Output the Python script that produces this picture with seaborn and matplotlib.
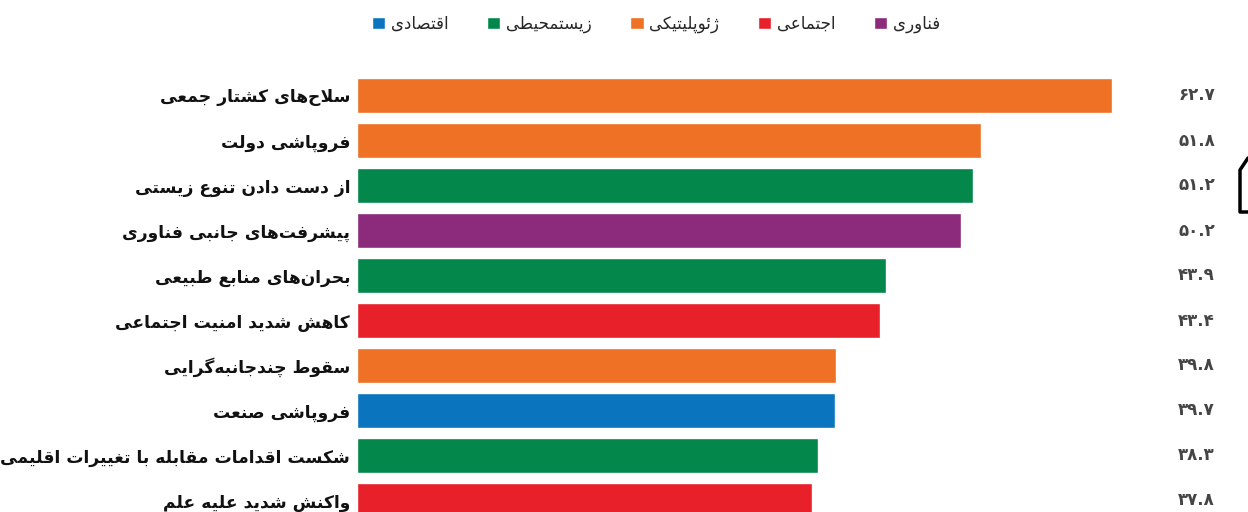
import numpy as np
import pandas as pd
import matplotlib
matplotlib.use("Agg")
import matplotlib.pyplot as plt
from matplotlib.lines import Line2D
import matplotlib.transforms as mtrans
import seaborn as sns

# ---------------- data ----------------
risks = [
    "سلاح‌های کشتار جمعی",
    "فروپاشی دولت",
    "از دست دادن تنوع زیستی",
    "پیشرفت‌های جانبی فناوری",
    "بحران‌های منابع طبیعی",
    "کاهش شدید امنیت اجتماعی",
    "سقوط چندجانبه‌گرایی",
    "فروپاشی صنعت",
    "شکست اقدامات مقابله با تغییرات اقلیمی",
    "واکنش شدید علیه علم",
]
values = [62.7, 51.8, 51.2, 50.2, 43.9, 43.4, 39.8, 39.7, 38.3, 37.8]
groups = ["ژئوپلیتیکی", "ژئوپلیتیکی", "زیستمحیطی", "فناوری", "زیستمحیطی",
          "اجتماعی", "ژئوپلیتیکی", "اقتصادی", "زیستمحیطی", "اجتماعی"]
legend_order = ["اقتصادی", "زیستمحیطی", "ژئوپلیتیکی", "اجتماعی", "فناوری"]
legend_colors = ["#0A75BE", "#03874A", "#EE7125", "#E8202A", "#8C2A7B"]

# ---------------- simple Persian shaping ----------------
F = {
    'ا': ('\uFE8D', '\uFE8E', None, None),
    'ب': ('\uFE8F', '\uFE90', '\uFE91', '\uFE92'),
    'پ': ('\uFB56', '\uFB57', '\uFB58', '\uFB59'),
    'ت': ('\uFE95', '\uFE96', '\uFE97', '\uFE98'),
    'ج': ('\uFE9D', '\uFE9E', '\uFE9F', '\uFEA0'),
    'چ': ('\uFB7A', '\uFB7B', '\uFB7C', '\uFB7D'),
    'ح': ('\uFEA1', '\uFEA2', '\uFEA3', '\uFEA4'),
    'د': ('\uFEA9', '\uFEAA', None, None),
    'ر': ('\uFEAD', '\uFEAE', None, None),
    'ز': ('\uFEAF', '\uFEB0', None, None),
    'ژ': ('\uFB8A', '\uFB8B', None, None),
    'س': ('\uFEB1', '\uFEB2', '\uFEB3', '\uFEB4'),
    'ش': ('\uFEB5', '\uFEB6', '\uFEB7', '\uFEB8'),
    'ص': ('\uFEB9', '\uFEBA', '\uFEBB', '\uFEBC'),
    'ط': ('\uFEC1', '\uFEC2', '\uFEC3', '\uFEC4'),
    'ع': ('\uFEC9', '\uFECA', '\uFECB', '\uFECC'),
    'غ': ('\uFECD', '\uFECE', '\uFECF', '\uFED0'),
    'ف': ('\uFED1', '\uFED2', '\uFED3', '\uFED4'),
    'ق': ('\uFED5', '\uFED6', '\uFED7', '\uFED8'),
    'ک': ('\uFB8E', '\uFB8F', '\uFB90', '\uFB91'),
    'گ': ('\uFB92', '\uFB93', '\uFB94', '\uFB95'),
    'ل': ('\uFEDD', '\uFEDE', '\uFEDF', '\uFEE0'),
    'م': ('\uFEE1', '\uFEE2', '\uFEE3', '\uFEE4'),
    'ن': ('\uFEE5', '\uFEE6', '\uFEE7', '\uFEE8'),
    'و': ('\uFEED', '\uFEEE', None, None),
    'ه': ('\uFEE9', '\uFEEA', '\uFEEB', '\uFEEC'),
    'ی': ('\uFBFC', '\uFBFD', '\uFBFE', '\uFBFF'),
    'ئ': ('\uFE89', '\uFE8A', '\uFE8B', '\uFE8C'),
}


def _dual(c):
    return c in F and F[c][2] is not None


def shape(s):
    out = []
    n = len(s)
    i = 0
    while i < n:
        c = s[i]
        if c not in F:
            if c != '\u200c':
                out.append(c)
            i += 1
            continue
        prev = s[i - 1] if i > 0 else ''
        pj = _dual(prev)
        if c == 'ل' and i + 1 < n and s[i + 1] == 'ا':
            out.append('\uFEFC' if pj else '\uFEFB')
            i += 2
            continue
        nxt = s[i + 1] if i + 1 < n else ''
        nj = _dual(c) and nxt in F
        iso, fin, ini, med = F[c]
        if pj and nj:
            g = med
        elif pj:
            g = fin
        elif nj:
            g = ini
        else:
            g = iso
        out.append(g)
        i += 1
    return ''.join(reversed(out))


def fa_num(v):
    digits = "۰۱۲۳۴۵۶۷۸۹"
    return ''.join(digits[int(ch)] if ch.isdigit() else ch for ch in f"{v:.1f}")


# ---------------- plot ----------------
sns.set_style("white")
plt.rcParams['font.family'] = ['DejaVu Sans']

W, H = 1248, 512
fig = plt.figure(figsize=(W / 100, H / 100), dpi=100)
fig.patch.set_facecolor("white")

px = 12.04  # pixels per unit
x0 = 357
ax_top = 50
ax = fig.add_axes([x0 / W, 0, (W - x0) / W, (H - ax_top) / H])

df = pd.DataFrame({"risk": risks, "value": values, "group": groups})
palette = dict(zip(legend_order, legend_colors))
sns.barplot(data=df, y="risk", x="value", hue="group", hue_order=legend_order,
            palette=palette, dodge=False, width=0.78, orient="h",
            saturation=1, ax=ax, legend=True)

ax.set_xlim(0, (W - x0) / px)
ax.set_ylim((H - 95.5) / 45, (ax_top - 95.5) / 45)
for s in ax.spines.values():
    s.set_visible(False)
ax.set_xticks([])
ax.set_xlabel("")
ax.set_ylabel("")
ax.set_yticks(range(len(risks)))
ax.set_yticklabels([shape(r) for r in risks], fontsize=12.3, fontweight="bold",
                   color="#111111")
ax.tick_params(axis="y", length=0, pad=5)

# value labels in a right column
trans = mtrans.blended_transform_factory(fig.transFigure, ax.transData)
for i, v in enumerate(values):
    ax.text(1215 / W, i, fa_num(v), transform=trans, ha="right", va="center",
            fontsize=12, fontweight="bold", color="#454545")

# legend
leg = ax.get_legend()
handles = leg.legend_handles
leg.remove()
fig.legend(handles, [shape(g) for g in legend_order], loc="center",
           bbox_to_anchor=(656 / W, 1 - 24 / H), ncol=5, frameon=False,
           fontsize=12, handlelength=0.8, handleheight=0.8, handletextpad=0.35,
           columnspacing=2.3, borderaxespad=0)

# black box fragment at right edge
pts = [(1248, 158), (1240, 170), (1240, 212), (1248, 212)]
fig.add_artist(Line2D([p[0] / W for p in pts], [1 - p[1] / H for p in pts],
                      transform=fig.transFigure, color="black", lw=2.5))

fig.savefig("out.png", dpi=100)
